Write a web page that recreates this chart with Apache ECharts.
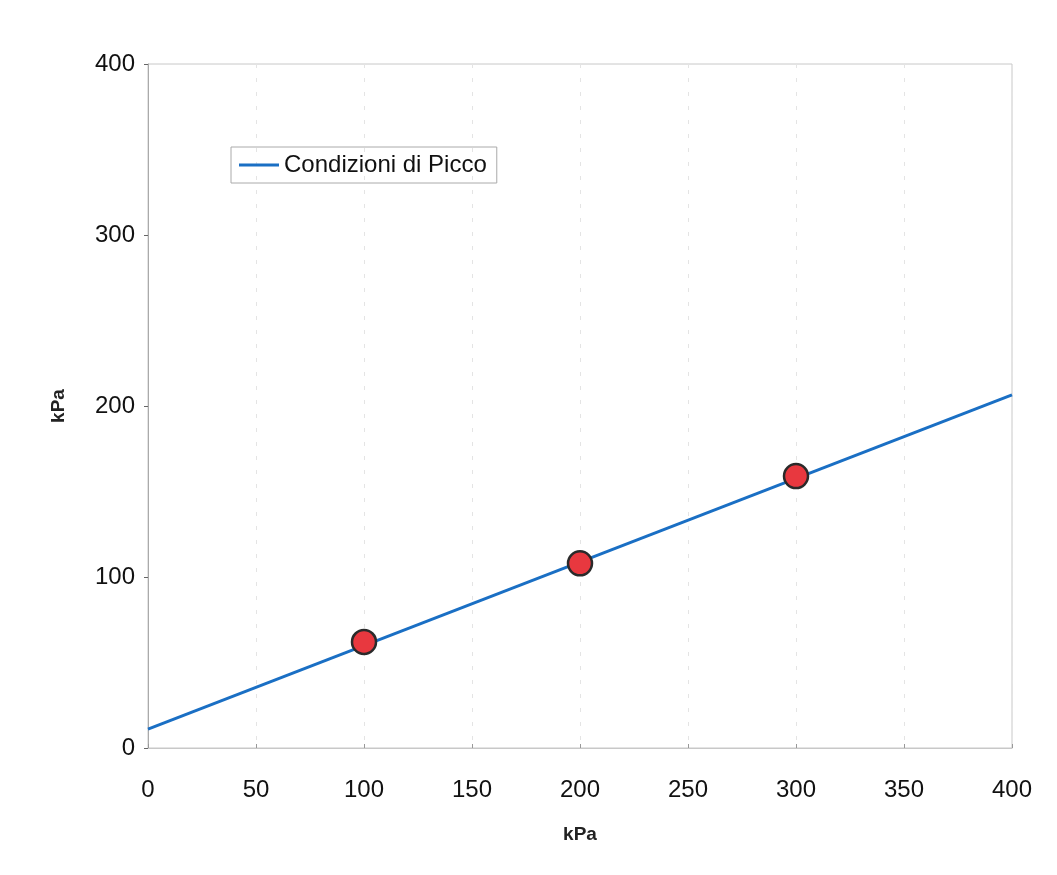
<!DOCTYPE html>
<html><head><meta charset="utf-8">
<script src="https://cdn.jsdelivr.net/npm/echarts@6/dist/echarts.min.js"></script>
<style>html,body{margin:0;padding:0;background:#fff}#c{width:1057px;height:875px}</style>
</head><body><div id="c"></div>
<script>
const xTicks = [0, 50, 100, 150, 200, 250, 300, 350, 400];
const lineX = [0, 400];
const lineY = [11, 206.5];
const pointX = [100, 200, 300];
const pointY = [62, 108, 159];
const seriesName = 'Condizioni di Picco';
const axisName = 'kPa';

const chart = echarts.init(document.getElementById('c'));
chart.setOption({
  backgroundColor: '#fff',
  animation: false,
  textStyle: { fontFamily: 'Liberation Sans, Arial, sans-serif' },
  grid: { left: 148, right: 45, top: 64, bottom: 127, show: true, borderColor: '#c8c8c8', borderWidth: 1 },
  legend: {
    data: [seriesName], left: 231, top: 147, orient: 'vertical',
    borderColor: '#aaa', borderWidth: 1, padding: [6, 10, 6, 8],
    itemWidth: 40, itemHeight: 3, itemGap: 6,
    textStyle: { fontSize: 24, color: '#111', fontFamily: 'Liberation Sans, Arial, sans-serif' },
    icon: 'rect'
  },
  xAxis: {
    type: 'value', min: 0, max: 400, interval: 50,
    name: axisName, nameLocation: 'middle', nameGap: 77,
    nameTextStyle: { fontSize: 19, fontWeight: 'bold', color: '#222' },
    axisLine: { show: true, lineStyle: { color: '#c8c8c8' } },
    axisTick: { show: true, inside: true, length: 4, lineStyle: { color: '#999' } },
    axisLabel: { fontSize: 24, color: '#111', margin: 30 },
    splitLine: { show: true, lineStyle: { color: '#e4e4e4', type: [4, 10] } }
  },
  yAxis: {
    type: 'value', min: 0, max: 400, interval: 100,
    name: axisName, nameLocation: 'middle', nameGap: 80, nameRotate: 90,
    nameTextStyle: { fontSize: 19, fontWeight: 'bold', color: '#222' },
    axisLine: { show: true, lineStyle: { color: '#aaa' } },
    axisTick: { show: true, inside: false, length: 4, lineStyle: { color: '#666' } },
    axisLabel: { fontSize: 24, color: '#111', margin: 13 },
    splitLine: { show: false }
  },
  series: [
    {
      name: seriesName, type: 'line', data: lineX.map((x, i) => [x, lineY[i]]),
      symbol: 'none', lineStyle: { color: '#1a6fc4', width: 3 }, itemStyle: { color: '#1a6fc4' }, z: 2
    },
    {
      name: 'punti', type: 'scatter', data: pointX.map((x, i) => [x, pointY[i]]),
      symbolSize: 24, itemStyle: { color: '#e8383f', opacity: 1, borderColor: '#2a2a2a', borderWidth: 2.5 }, z: 3
    }
  ]
});
</script></body></html>
